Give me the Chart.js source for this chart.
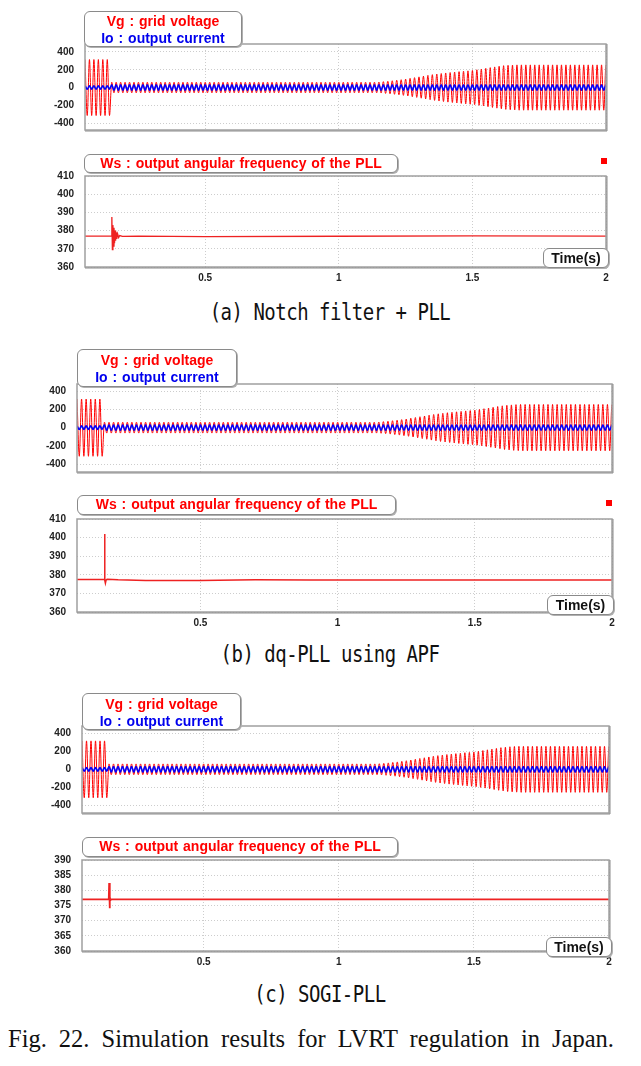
<!DOCTYPE html>
<html>
<head>
<meta charset="utf-8">
<script src="https://cdn.jsdelivr.net/npm/chart.js@4.4.1/dist/chart.umd.min.js"></script>
<style>
  body { margin: 0; background: #fff; }
  #page { position: relative; width: 641px; height: 1066px; overflow: hidden; background: #fff; }
  canvas { position: absolute; }
  .lbox {
    position: absolute; box-sizing: border-box; background: #fff;
    border: 1px solid #8a8a8a; border-radius: 6px; box-shadow: 1px 1px 0 #b0b0b0;
    font: bold 14px "Liberation Sans", Arial, sans-serif; text-align: center;
    line-height: 17px; z-index: 5; white-space: nowrap; word-spacing: 1px;
  }
  .mark { position: absolute; width: 6px; height: 6px; background: #f00; z-index: 5; }
  .cap {
    position: absolute; text-align: center; white-space: nowrap; color: #111;
    font: 19px "DejaVu Sans Mono", monospace; transform: scaleY(1.25); letter-spacing: -0.5px;
  }
  .fig {
    position: absolute; left: 8px; width: 606px; white-space: nowrap; color: #111;
    font: 24.5px "Liberation Serif", "Times New Roman", serif; text-align: justify; text-align-last: justify;
  }
</style>
</head>
<body>
<div id="page">
  <canvas id="a1"></canvas><canvas id="a2"></canvas>
  <canvas id="b1"></canvas><canvas id="b2"></canvas>
  <canvas id="c1"></canvas><canvas id="c2"></canvas>

  <div class="lbox" style="left:84px;top:11px;width:158px;height:36px;padding-top:1px"><div style="color:#f00">Vg : grid voltage</div><div style="color:#0000ee">Io : output current</div></div>
  <div class="lbox" style="left:84px;top:154px;width:314px;height:19px;color:#f00">Ws : output angular frequency of the PLL</div>
  <div class="lbox" style="left:543px;top:248px;width:66px;height:20px;color:#111;line-height:18px">Time(s)</div>
  <div class="mark" style="left:601px;top:158px"></div>
  <div class="cap" style="left:0;width:660px;top:300px">(a) Notch filter + PLL</div>

  <div class="lbox" style="left:77px;top:349px;width:160px;height:38px;padding-top:2px"><div style="color:#f00">Vg : grid voltage</div><div style="color:#0000ee">Io : output current</div></div>
  <div class="lbox" style="left:77px;top:495px;width:319px;height:20px;color:#f00">Ws : output angular frequency of the PLL</div>
  <div class="lbox" style="left:547px;top:595px;width:67px;height:20px;color:#111;line-height:18px">Time(s)</div>
  <div class="mark" style="left:606px;top:500px"></div>
  <div class="cap" style="left:0;width:660px;top:642px">(b) dq-PLL using APF</div>

  <div class="lbox" style="left:82px;top:693px;width:159px;height:37px;padding-top:2px"><div style="color:#f00">Vg : grid voltage</div><div style="color:#0000ee">Io : output current</div></div>
  <div class="lbox" style="left:82px;top:837px;width:316px;height:20px;color:#f00">Ws : output angular frequency of the PLL</div>
  <div class="lbox" style="left:546px;top:937px;width:66px;height:20px;color:#111;line-height:18px">Time(s)</div>
  <div class="cap" style="left:0;width:640px;top:982px">(c) SOGI-PLL</div>

  <div class="fig" style="top:1025px">Fig. 22. Simulation results for LVRT regulation in Japan.</div>
</div>

<script>
// ---- axes ----
const timeMin = 0.05;
const timeMax = 2.0;
const xTickValues = [0.5, 1, 1.5, 2];
const xTickLabels = ['0.5', '1', '1.5', '2'];
const vgTickValues = [400, 200, 0, -200, -400];
const wsTickValuesAB = [410, 400, 390, 380, 370, 360];
const wsTickValuesC = [390, 385, 380, 375, 370, 365, 360];

// ---- grid voltage / output current (60 Hz, one amplitude per cycle) ----
const gridPeriod = 1 / 60;
const vgAmplitude = [
  315, 315, 315, 315, 315, 315,
  60, 60, 60, 60, 60, 60, 60, 60, 60, 60, 60, 60, 60, 60, 60, 60, 60, 60, 60, 60,
  60, 60, 60, 60, 60, 60, 60, 60, 60, 60, 60, 60, 60, 60, 60, 60, 60, 60, 60, 60,
  60, 60, 60, 60, 60, 60, 60, 60, 60, 60, 60, 60, 60, 60, 60, 60, 60, 60, 60, 60,
  62, 66, 71, 76, 82, 88, 95, 103, 111, 120, 128, 137, 145, 152, 158, 164, 169,
  174, 179, 184, 188, 193, 200, 208, 216, 224, 232, 240, 246, 250, 253,
  255, 255, 255, 255, 255, 255, 255, 255, 255, 255, 255, 255, 255, 255, 255,
  255, 255, 255, 255, 255, 255
];
const ioAmplitude = [
  20, 20, 20, 20, 20, 20,
  32, 32, 32, 32, 32, 32, 32, 32, 32, 32, 32, 32, 32, 32, 32, 32, 32, 32, 32, 32,
  32, 32, 32, 32, 32, 32, 32, 32, 32, 32, 32, 32, 32, 32, 32, 32, 32, 32, 32, 32,
  32, 32, 32, 32, 32, 32, 32, 32, 32, 32, 32, 32, 32, 32, 32, 32, 32, 32, 32, 32,
  32, 32, 32, 32, 32, 32, 32, 32, 32, 32, 32, 32, 32, 32, 32, 32, 32,
  32, 32, 32, 32, 32, 32, 32, 32, 32, 32, 32, 32, 32, 32, 32,
  32, 32, 32, 32, 32, 32, 32, 32, 32, 32, 32, 32, 32, 32, 32,
  32, 32, 32, 32, 32, 32
];

// ---- PLL angular frequency ----
const wsTimesA  = [0.05, 0.148, 0.1505, 0.1525, 0.1545, 0.1565, 0.1585, 0.1605, 0.1625, 0.1645, 0.1665, 0.169, 0.172, 0.176, 0.18, 0.19, 0.25, 0.5, 1.0, 1.5, 2.0];
const wsValuesA = [377, 377, 387.5, 369.5, 383, 371.5, 381.5, 373, 380, 374.5, 379, 375.5, 378.2, 376.2, 377.3, 376.8, 377, 376.7, 376.9, 377.1, 377];
const wsTimesB  = [0.05, 0.149, 0.1505, 0.152, 0.1535, 0.156, 0.16, 0.2, 0.3, 0.5, 0.7, 0.9, 1.2, 2.0];
const wsValuesB = [377.5, 377.5, 402, 377, 375.5, 377.2, 377.6, 377.3, 376.9, 377, 377.3, 377.2, 377.2, 377.2];
const wsTimesC  = [0.05, 0.149, 0.1505, 0.152, 0.1535, 0.155, 0.158, 2.0];
const wsValuesC = [377, 377, 382.4, 374.1, 377.8, 376.7, 377, 377];

// ---- helpers ----
function sineFromPeaks(amps) {
  const pts = [];
  amps.forEach((a, k) => {
    const t0 = timeMin + k * gridPeriod;
    pts.push({ x: t0, y: a });
    pts.push({ x: t0 + gridPeriod / 2, y: -a });
  });
  return pts;
}
function pairs(xs, ys) {
  return xs.map((x, i) => ({ x: x, y: ys[i] }));
}

const tickFont = { family: '"Liberation Sans", Arial, sans-serif', size: 10, weight: 'bold' };

const frameBox = {
  id: 'frameBox',
  afterDatasetsDraw(chart) {
    const a = chart.chartArea, ctx = chart.ctx;
    ctx.save();
    ctx.strokeStyle = '#a0a0a0';
    ctx.lineWidth = 1.5;
    ctx.strokeRect(a.left, a.top, a.right - a.left, a.bottom - a.top);
    ctx.strokeStyle = '#8c8c8c';
    ctx.lineWidth = 1;
    ctx.beginPath();
    ctx.moveTo(a.right + 1, a.top); ctx.lineTo(a.right + 1, a.bottom + 1); ctx.lineTo(a.left, a.bottom + 1);
    ctx.stroke();
    ctx.restore();
  }
};

function makePanel(id, rect, datasets, yMin, yMax, yTicks, showX) {
  const yW = 45, padT = 10, padR = 8;
  const xH = showX ? 22 : 0, padB = showX ? 2 : 6;
  const cv = document.getElementById(id);
  const w = rect.R - rect.L + yW + padR;
  const h = rect.B - rect.T + padT + xH + padB;
  cv.width = w; cv.height = h;
  cv.style.left = (rect.L - yW) + 'px';
  cv.style.top = (rect.T - padT) + 'px';
  cv.style.width = w + 'px'; cv.style.height = h + 'px';

  new Chart(cv, {
    type: 'line',
    data: { datasets: datasets },
    options: {
      responsive: false,
      animation: false,
      events: [],
      layout: { padding: { top: padT, right: padR, bottom: padB, left: 0 } },
      plugins: { legend: { display: false }, tooltip: { enabled: false } },
      elements: { point: { radius: 0 } },
      scales: {
        x: {
          type: 'linear', min: timeMin, max: timeMax,
          afterBuildTicks: s => { s.ticks = xTickValues.map(v => ({ value: v })); },
          afterFit: s => { s.height = xH; },
          ticks: { display: showX, padding: 5, autoSkip: false, maxRotation: 0, color: '#222', font: tickFont,
                   callback: (v, i) => xTickLabels[i] },
          grid: { color: '#cdcdcd', lineWidth: 1, drawTicks: false },
          border: { display: false, dash: [1, 2] }
        },
        y: {
          type: 'linear', min: yMin, max: yMax,
          afterBuildTicks: s => { s.ticks = yTicks.map(v => ({ value: v })); },
          afterFit: s => { s.width = yW; },
          ticks: { padding: 11, autoSkip: false, color: '#222', font: tickFont,
                   callback: v => String(v) },
          grid: { color: '#cdcdcd', lineWidth: 1, drawTicks: false },
          border: { display: false, dash: [1, 2] }
        }
      }
    },
    plugins: [frameBox]
  });
}

const vgData = sineFromPeaks(vgAmplitude);
const ioData = sineFromPeaks(ioAmplitude);

function waveSets() {
  return [
    { label: 'Vg', data: vgData, borderColor: '#ff0000', borderWidth: 1, cubicInterpolationMode: 'monotone', order: 2 },
    { label: 'Io', data: ioData, borderColor: '#0000ff', borderWidth: 1.6, cubicInterpolationMode: 'monotone', order: 1 }
  ];
}
function wsSet(xs, ys, width) {
  return [{ label: 'Ws', data: pairs(xs, ys), borderColor: '#ee2222', borderWidth: width, tension: 0 }];
}

makePanel('a1', { L: 85, T: 37, R: 606, B: 141 }, waveSets(), -478, 490, vgTickValues, false);
makePanel('a2', { L: 85, T: 169, R: 606, B: 267 }, wsSet(wsTimesA, wsValuesA, 1.3), 360, 410, wsTickValuesAB, true);
makePanel('b1', { L: 77, T: 377, R: 612, B: 483 }, waveSets(), -488, 480, vgTickValues, false);
makePanel('b2', { L: 77, T: 512, R: 612, B: 612 }, wsSet(wsTimesB, wsValuesB, 1.5), 360, 410, wsTickValuesAB, true);
makePanel('c1', { L: 82, T: 719, R: 609, B: 824 }, waveSets(), -484, 480, vgTickValues, false);
makePanel('c2', { L: 82, T: 853, R: 609, B: 951 }, wsSet(wsTimesC, wsValuesC, 1.8), 360, 390, wsTickValuesC, true);
</script>
</body>
</html>
